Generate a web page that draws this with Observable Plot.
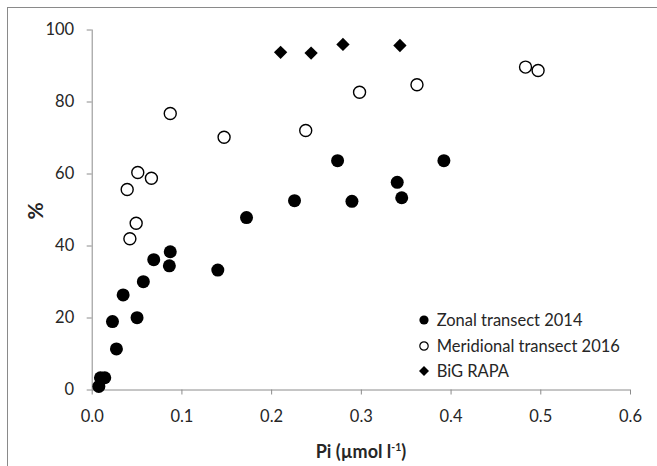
<!DOCTYPE html>
<html><head><meta charset="utf-8">
<script src="https://cdn.jsdelivr.net/npm/d3@7"></script>
<script src="https://cdn.jsdelivr.net/npm/@observablehq/plot@0.6"></script>
<style>
body{margin:0;background:#fff;}
#wrap{position:relative;width:657px;height:466px;overflow:hidden;font-family:Lato,"Open Sans",sans-serif;color:#262626;}
#frame{position:absolute;left:7px;top:7px;width:720px;height:520px;border-left:1px solid #8a8a8a;border-top:1px solid #8a8a8a;pointer-events:none;}
#chart{position:absolute;left:0;top:0;}
#xtitle{position:absolute;left:0;width:722px;top:440px;text-align:center;font-weight:bold;font-size:18px;}
#xtitle sup{font-size:10.5px;vertical-align:7px;line-height:0;}
#ytitle{position:absolute;left:34px;top:211px;transform:translate(-50%,-50%) rotate(-90deg);font-weight:bold;font-size:21px;}
#legend{position:absolute;left:417px;top:307px;font-size:16.5px;}
#legend .row{display:flex;align-items:center;height:25.7px;white-space:nowrap;}
#legend svg{width:14px;height:14px;margin-right:5.7px;flex:none;}
</style>
</head><body>
<div id="wrap">
  <div id="chart"></div>
  <div id="frame"></div>
  <div id="xtitle">Pi (µmol l<sup>-1</sup>)</div>
  <div id="ytitle">%</div>
  <div id="legend"></div>
</div>
<script>
// Zonal transect 2014 (filled circles)
const zonalX = [0.0074,0.0092,0.014,0.027,0.0226,0.050,0.0345,0.057,0.0686,0.086,0.087,0.140,0.172,0.2255,0.2735,0.2895,0.340,0.345,0.392];
const zonalY = [1.0,3.4,3.4,11.4,19.0,20.1,26.4,30.1,36.2,34.5,38.4,33.3,47.9,52.6,63.7,52.4,57.7,53.4,63.7];
// Meridional transect 2016 (open circles)
const meridX = [0.042,0.049,0.039,0.0508,0.066,0.087,0.147,0.238,0.298,0.362,0.483,0.497];
const meridY = [42.0,46.3,55.7,60.4,58.8,76.8,70.2,72.1,82.7,84.8,89.7,88.75];
// BiG RAPA (diamonds)
const bigX = [0.210,0.244,0.2795,0.343];
const bigY = [93.8,93.6,96.0,95.7];

const seriesNames = ["Zonal transect 2014","Meridional transect 2016","BiG RAPA"];
const xTicks = [0,0.1,0.2,0.3,0.4,0.5,0.6];
const yTicks = [0,20,40,60,80,100];

const toRows = (xs, ys) => xs.map((x,i)=>({x, y: ys[i]}));
const zonal = toRows(zonalX, zonalY);
const merid = toRows(meridX, meridY);
const big = toRows(bigX, bigY);

const chart = Plot.plot({
  width: 657, height: 466,
  marginLeft: 91.7, marginRight: 27, marginTop: 29.5, marginBottom: 76.5,
  style: {fontFamily: "Lato, 'Open Sans', sans-serif", fontSize: "16.5px", color: "#262626", background: "transparent"},
  x: {domain: [0, 0.6]},
  y: {domain: [0, 100]},
  marks: [
    Plot.axisX({ticks: xTicks, tickFormat: d => d.toFixed(1), tickSize: 5, tickPadding: 15, stroke: "#8c8c8c", fill: "#262626", fontSize: 16.5, label: null}),
    Plot.axisY({ticks: yTicks, tickSize: 5, tickPadding: 13, stroke: "#8c8c8c", fill: "#262626", fontSize: 16.5, label: null}),
    Plot.ruleY([0], {stroke: "#8c8c8c"}),
    Plot.ruleX([0], {y1: 0, y2: 100, stroke: "#8c8c8c"}),
    Plot.dot(zonal, {x: "x", y: "y", r: 6.5, fill: "#000", stroke: "none"}),
    Plot.dot(merid, {x: "x", y: "y", r: 6, fill: "#fff", stroke: "#000", strokeWidth: 1.4}),
    Plot.dot(big, {x: "x", y: "y", r: 6, symbol: "diamond2", fill: "#000", stroke: "none"})
  ]
});
document.getElementById("chart").appendChild(chart);

const markers = [
  '<svg viewBox="-7 -7 14 14"><circle r="4.6" fill="#000"/></svg>',
  '<svg viewBox="-7 -7 14 14"><circle r="4.2" fill="#fff" stroke="#000" stroke-width="1.2"/></svg>',
  '<svg viewBox="-7 -7 14 14"><path d="M0,-5L5,0L0,5L-5,0Z" fill="#000"/></svg>'
];
const leg = document.getElementById("legend");
seriesNames.forEach((name,i) => {
  const row = document.createElement("div");
  row.className = "row";
  row.innerHTML = markers[i] + "<span></span>";
  row.querySelector("span").textContent = name;
  leg.appendChild(row);
});
</script>
</body></html>
